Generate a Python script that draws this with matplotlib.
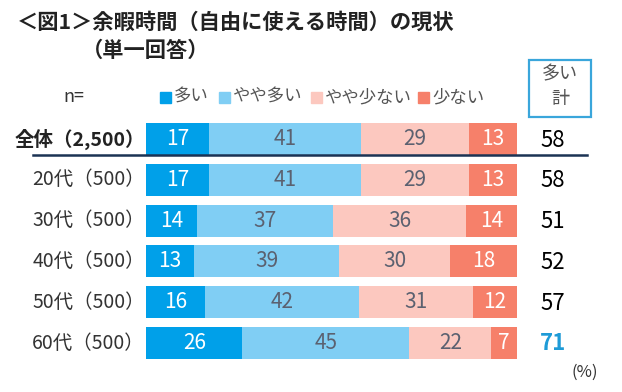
import matplotlib
matplotlib.use("Agg")
import matplotlib.pyplot as plt
import numpy as np
from matplotlib.patches import Rectangle

plt.rcParams['font.family'] = ['Noto Sans CJK JP', 'DejaVu Sans']

categories = ["全体（2,500）", "20代（500）", "30代（500）", "40代（500）", "50代（500）", "60代（500）"]
series_names = ["多い", "やや多い", "やや少ない", "少ない"]
many = [17, 17, 14, 13, 16, 26]
somewhat_many = [41, 41, 37, 39, 42, 45]
somewhat_few = [29, 29, 36, 30, 31, 22]
few = [13, 13, 14, 18, 12, 7]
totals = [58, 58, 51, 52, 57, 71]

colors = ["#00A0E9", "#80CEF4", "#FCC8BF", "#F6806A"]
text_colors = ["white", "#5B6170", "#5B6170", "white"]

W, H = 622, 392
fig = plt.figure(figsize=(W/100, H/100), dpi=100)

def fx(px): return px / W
def fy(py): return 1 - py / H

left, right = 146, 517
top, bottom = 118.6, 363.4
ax = fig.add_axes([fx(left), fy(bottom), fx(right - left), (bottom - top) / H])
ax.set_xlim(0, 100)
ax.set_ylim(len(categories) - 0.5, -0.5)
ax.axis("off")

data = np.array([many, somewhat_many, somewhat_few, few], dtype=float)
norm = data / data.sum(axis=0) * 100
ypos = np.arange(len(categories))
lefts = np.zeros(len(categories))
for k in range(4):
    ax.barh(ypos, norm[k], left=lefts, height=0.78, color=colors[k], edgecolor="none")
    for i in range(len(categories)):
        ax.text(lefts[i] + norm[k][i] / 2, ypos[i], str(int(data[k][i])),
                ha="center", va="center", color=text_colors[k], fontsize=15)
    lefts += norm[k]

# row labels
for i, c in enumerate(categories):
    fig.text(fx(145), fy(139 + i * 40.8), c, ha="right", va="center",
             fontsize=14, fontweight="bold" if i == 0 else "normal", color="#222222" if i == 0 else "#333333")

# totals
for i, t in enumerate(totals):
    is_last = i == len(totals) - 1
    fig.text(fx(553), fy(140 + i * 40.8), str(t), ha="center", va="center",
             fontsize=16, color="#1E9BD7" if is_last else "black",
             fontweight="bold" if is_last else "normal")

# separator line
fig.add_artist(plt.Line2D([fx(33), fx(587)], [fy(155), fy(155)], color="#1B3354", lw=1.8))

# title
fig.text(fx(17), fy(22), "＜図1＞余暇時間（自由に使える時間）の現状", ha="left", va="center",
         fontsize=15.3, fontweight="bold", color="#222222")
fig.text(fx(82), fy(50), "（単一回答）", ha="left", va="center",
         fontsize=15.3, fontweight="bold", color="#222222")

# legend
fig.text(fx(63), fy(97), "n=", ha="left", va="center", fontsize=13, color="#333333")
leg_x = [160, 219, 311, 418]
for k, name in enumerate(series_names):
    fig.add_artist(Rectangle((fx(leg_x[k]), fy(103)), fx(11), 11 / H, color=colors[k],
                             transform=fig.transFigure))
    fig.text(fx(leg_x[k] + 14), fy(97), name, ha="left", va="center", fontsize=12.5, color="#555555")

# box for 多い計
fig.add_artist(Rectangle((fx(529), fy(117)), fx(62), 57 / H, fill=False, edgecolor="#3AA6DB",
                         lw=1.6, transform=fig.transFigure))
fig.text(fx(560), fy(74), "多い", ha="center", va="center", fontsize=13, color="#555555")
fig.text(fx(560), fy(99), "計", ha="center", va="center", fontsize=13, color="#555555")

fig.text(fx(585), fy(372), "(%)", ha="center", va="center", fontsize=12, color="#333333")

fig.savefig("out.png", dpi=100)
